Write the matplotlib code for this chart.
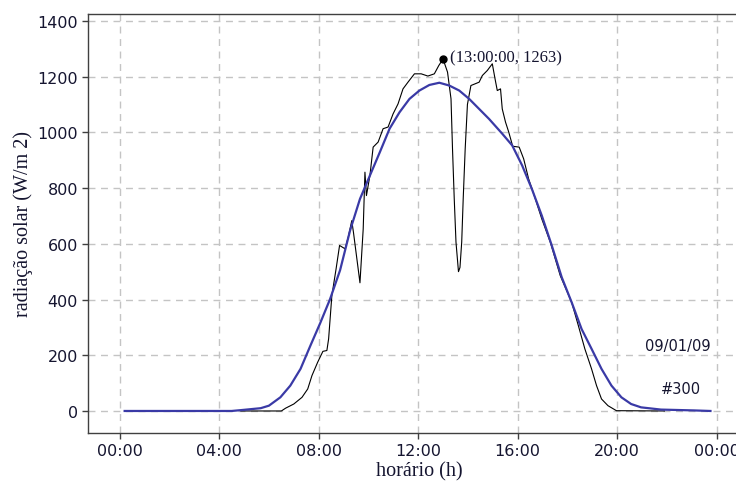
import matplotlib
matplotlib.use("Agg")
import matplotlib.pyplot as plt

# measured solar radiation (hours, W/m2)
hora_med = [4.87, 6.5, 6.67, 7.0, 7.33, 7.56, 7.73, 7.96, 8.17, 8.33, 8.40, 8.53, 8.70,
            8.84, 9.06, 9.19, 9.33, 9.40, 9.66, 9.79, 9.86, 9.92, 10.06, 10.19, 10.39,
            10.59, 10.79, 10.99, 11.19, 11.39, 11.59, 11.85, 12.12, 12.39, 12.65, 12.83,
            13.0, 13.18, 13.32, 13.38, 13.45, 13.52, 13.62, 13.68, 13.75, 13.81, 13.89,
            13.98, 14.12, 14.45, 14.58, 14.78, 14.98, 15.09, 15.18, 15.31, 15.38, 15.51,
            15.64, 15.80, 16.06, 16.24, 16.44, 16.71, 16.97, 17.31, 17.71, 18.17, 18.44,
            18.70, 18.97, 19.17, 19.37, 19.63, 19.97, 21.9]
rad_med = [0, 0, 10, 25, 49, 79, 127, 175, 214, 217, 259, 414, 510,
           594, 582, 624, 683, 640, 460, 653, 857, 773, 845, 947, 965,
           1013, 1019, 1066, 1102, 1156, 1180, 1210, 1210, 1202, 1210, 1240,
           1263, 1216, 1120, 941, 761, 606, 500, 515, 606, 761, 941,
           1100, 1168, 1180, 1204, 1222, 1246, 1192, 1150, 1156, 1084, 1037,
           1001, 950, 947, 905, 833, 761, 689, 606, 486, 390, 306,
           223, 151, 91, 43, 19, 1, 0]

# fitted curve
hora_fit = [0.2, 4.5, 4.87, 5.67, 6.0, 6.46, 6.86, 7.27, 7.67, 8.06, 8.46, 8.86, 9.26,
            9.66, 10.06, 10.46, 10.85, 11.25, 11.65, 12.05, 12.45, 12.85, 13.25, 13.65,
            14.05, 14.45, 14.85, 15.38, 15.78, 16.18, 16.57, 16.97, 17.37, 17.77, 18.17,
            18.57, 18.97, 19.37, 19.77, 20.17, 20.56, 20.96, 21.76, 23.09, 23.75]
rad_fit = [0, 0, 3, 10, 19, 49, 91, 151, 235, 315, 402, 505, 647,
           761, 845, 929, 1013, 1072, 1120, 1150, 1170, 1178, 1168, 1150,
           1120, 1084, 1048, 995, 953, 881, 797, 701, 594, 480, 390,
           294, 223, 151, 91, 49, 25, 13, 5, 2, 0]

pico_h, pico_v = 13.0, 1263
ticks_h = [0, 4, 8, 12, 16, 20, 24]
ticks_lbl = ["00:00", "04:00", "08:00", "12:00", "16:00", "20:00", "00:00"]
ticks_y = [0, 200, 400, 600, 800, 1000, 1200, 1400]

serif = ["Liberation Serif", "DejaVu Serif"]
ink = "#151530"

fig = plt.figure(figsize=(7.36, 4.89), dpi=100)
ax = fig.add_axes([0.12, 0.1125, 0.9004, 0.857])

ax.plot(hora_med, rad_med, color="black", lw=0.8, zorder=3)
ax.plot(hora_fit, rad_fit, color="#3a3aa6", lw=1.6, zorder=4)
ax.plot([pico_h], [pico_v], "o", color="black", ms=5, zorder=5)
ax.annotate("(13:00:00, 1263)", (pico_h, pico_v), xytext=(5, 1), textcoords="offset points",
            va="center", ha="left", family=serif, fontsize=12, color=ink)

ax.text(23.75, 235, "09/01/09", ha="right", va="center", fontsize=10.5, color=ink)
ax.text(23.35, 80, "#300", ha="right", va="center", fontsize=10.5, color=ink)

ax.set_xlim(-1.26, 25.38)
ax.set_ylim(-79, 1425)
ax.set_xticks(ticks_h)
ax.set_xticklabels(ticks_lbl)
ax.set_yticks(ticks_y)
ax.tick_params(direction="out", length=4, width=1, colors="#404040",
               labelcolor=ink, labelsize=11.5)

ax.grid(True, color="#c4c4c4", linestyle=(0, (5, 4)), linewidth=1)
for s in ax.spines.values():
    s.set_color("#404040")
    s.set_linewidth(1)

ax.set_xlabel("horário (h)", family=serif, fontsize=14.5, color=ink, labelpad=2)
ax.set_ylabel("radiação solar (W/m 2)", family=serif, fontsize=14.5, color=ink, labelpad=3)

fig.savefig("out.png", dpi=100)
